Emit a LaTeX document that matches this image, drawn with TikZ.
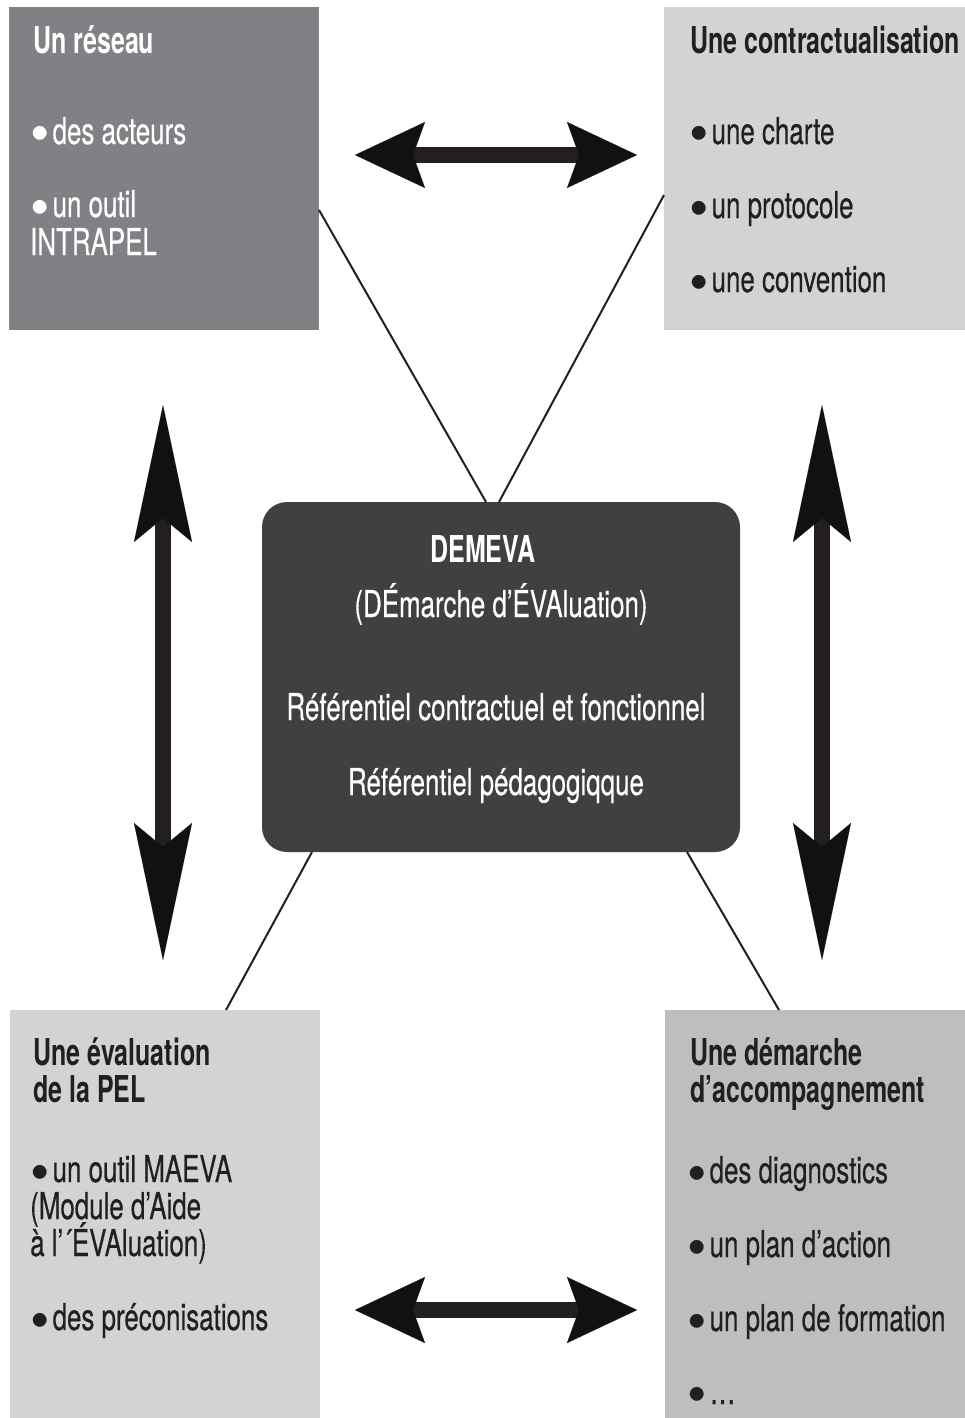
\documentclass[tikz,border=0pt]{standalone}
\usepackage{fontspec}
\setmainfont{TeX Gyre Heros}[FakeStretch=0.70, FakeBold=0.4]
\newfontfamily\titlefont{TeX Gyre Heros}[FakeStretch=0.675]
\newfontfamily\bulfont{TeX Gyre Heros}
\newcommand{\bul}{{\bulfont\raisebox{-9pt}[0pt][0pt]{\scalebox{1.5}{•}}}\hspace{3pt}}
\usetikzlibrary{arrows.meta,calc}
\definecolor{boxA}{HTML}{808184}
\definecolor{boxB}{HTML}{D1D3D4}
\definecolor{boxC}{HTML}{BCBEC0}
\definecolor{boxD}{HTML}{404041}
\definecolor{ink}{HTML}{231F20}
\definecolor{tipc}{HTML}{111013}
\begin{document}
\begin{tikzpicture}[x=1pt,y=-1pt,
  panel/.style={rectangle, draw=none, inner sep=0pt, outer sep=0pt, anchor=north west},
  txt/.style={anchor=base west, inner sep=0pt, font=\fontsize{37}{37}\selectfont},
  btxt/.style={anchor=base west, inner sep=0pt, font=\fontsize{37}{37}\selectfont\titlefont\bfseries},
  ctxt/.style={anchor=base, inner sep=0pt, font=\fontsize{37}{37}\selectfont, text=white},
  link/.style={draw=ink, line width=2pt},
  harrow/.style={draw=ink, line width=16pt,
    {Stealth[length=70pt,width=66pt,inset=12pt,line width=0.01pt,color=tipc]}-{Stealth[length=70pt,width=66pt,inset=12pt,line width=0.01pt,color=tipc]}},
  varrow/.style={draw=ink, line width=16pt,
    {Stealth[length=137pt,width=58pt,inset=24pt,line width=0.01pt,color=tipc]}-{Stealth[length=137pt,width=58pt,inset=24pt,line width=0.01pt,color=tipc]}}
]
\useasboundingbox (0,0) rectangle (965,1418);
% panels
\node[panel, fill=boxA, minimum width=310pt, minimum height=323pt] (tl) at (9,7) {};
\node[panel, fill=boxB, minimum width=301pt, minimum height=323pt] (tr) at (664,7) {};
\node[panel, fill=boxB, minimum width=310pt, minimum height=408pt] (bl) at (10,1010) {};
\node[panel, fill=boxC, minimum width=300pt, minimum height=408pt] (br) at (665,1010) {};
\node[panel, fill=boxD, rounded corners=25pt, minimum width=478pt, minimum height=350pt] (c) at (262,502) {};
% thin links
\draw[link] ($(tl.north east)+(0,203)$) -- ($(c.north west)+(224,0)$);
\draw[link] ($(tr.north west)+(0,188)$) -- ($(c.north west)+(237,0)$);
\draw[link] ($(c.south west)+(50,0)$) -- ($(bl.north west)+(216,0)$);
\draw[link] ($(c.south west)+(425,0)$) -- ($(br.north west)+(114,0)$);
% big arrows
\coordinate (ht1) at (355,155);
\coordinate (ht2) at (637,155);
\coordinate (hb1) at (355,1310);
\coordinate (hb2) at (637,1310);
\coordinate (vl1) at (163,405);
\coordinate (vl2) at (163,960);
\coordinate (vr1) at (822,405);
\coordinate (vr2) at (822,960);
\draw[harrow] (ht1) -- (ht2);
\draw[harrow] (hb1) -- (hb2);
\draw[varrow] (vl1) -- (vl2);
\draw[varrow] (vr1) -- (vr2);
% top-left text
\node[btxt, text=white] (tla) at (33,54) {Un réseau};
\node[txt, text=white] (tlb) at (30,144) {\bul des acteurs};
\node[txt, text=white] (tlc) at (30,217) {\bul un outil};
\node[txt, text=white] (tld) at (30,255) {INTRAPEL};
% top-right text
\node[btxt, text=ink] (tra) at (690,54) {Une contractualisation};
\node[txt, text=ink] (trb) at (689,144) {\bul une charte};
\node[txt, text=ink] (trc) at (689,218) {\bul un protocole};
\node[txt, text=ink] (trd) at (689,292) {\bul une convention};
% center text
\node[ctxt, font=\fontsize{37}{37}\selectfont\titlefont\bfseries] (ca) at (483,562) {DEMEVA};
\node[ctxt] (cb) at (501,617) {(DÉmarche d’ÉVAluation)};
\node[ctxt] (cc) at (496,720) {Référentiel contractuel et fonctionnel};
\node[ctxt] (cd) at (496,795) {Référentiel pédagogiqque};
% bottom-left text
\node[btxt, text=ink] (bla) at (33,1065) {Une évaluation};
\node[btxt, text=ink] (blb) at (33,1102) {de la PEL};
\node[txt, text=ink] (blc) at (30,1182) {\bul un outil MAEVA};
\node[txt, text=ink] (bld) at (30,1219) {(Module d’Aide};
\node[txt, text=ink] (ble) at (30,1256) {à l’´ÉVAluation)};
\node[txt, text=ink] (blf) at (30,1330) {\bul des préconisations};
% bottom-right text
\node[btxt, text=ink] (bra) at (690,1065) {Une démarche};
\node[btxt, text=ink] (brb) at (690,1102) {d’accompagnement};
\node[txt, text=ink] (brc) at (687,1183) {\bul des diagnostics};
\node[txt, text=ink] (brd) at (687,1257) {\bul un plan d’action};
\node[txt, text=ink] (bre) at (687,1331) {\bul un plan de formation};
\node[txt, text=ink] (brf) at (687,1404) {\bul …};
\end{tikzpicture}
\end{document}
